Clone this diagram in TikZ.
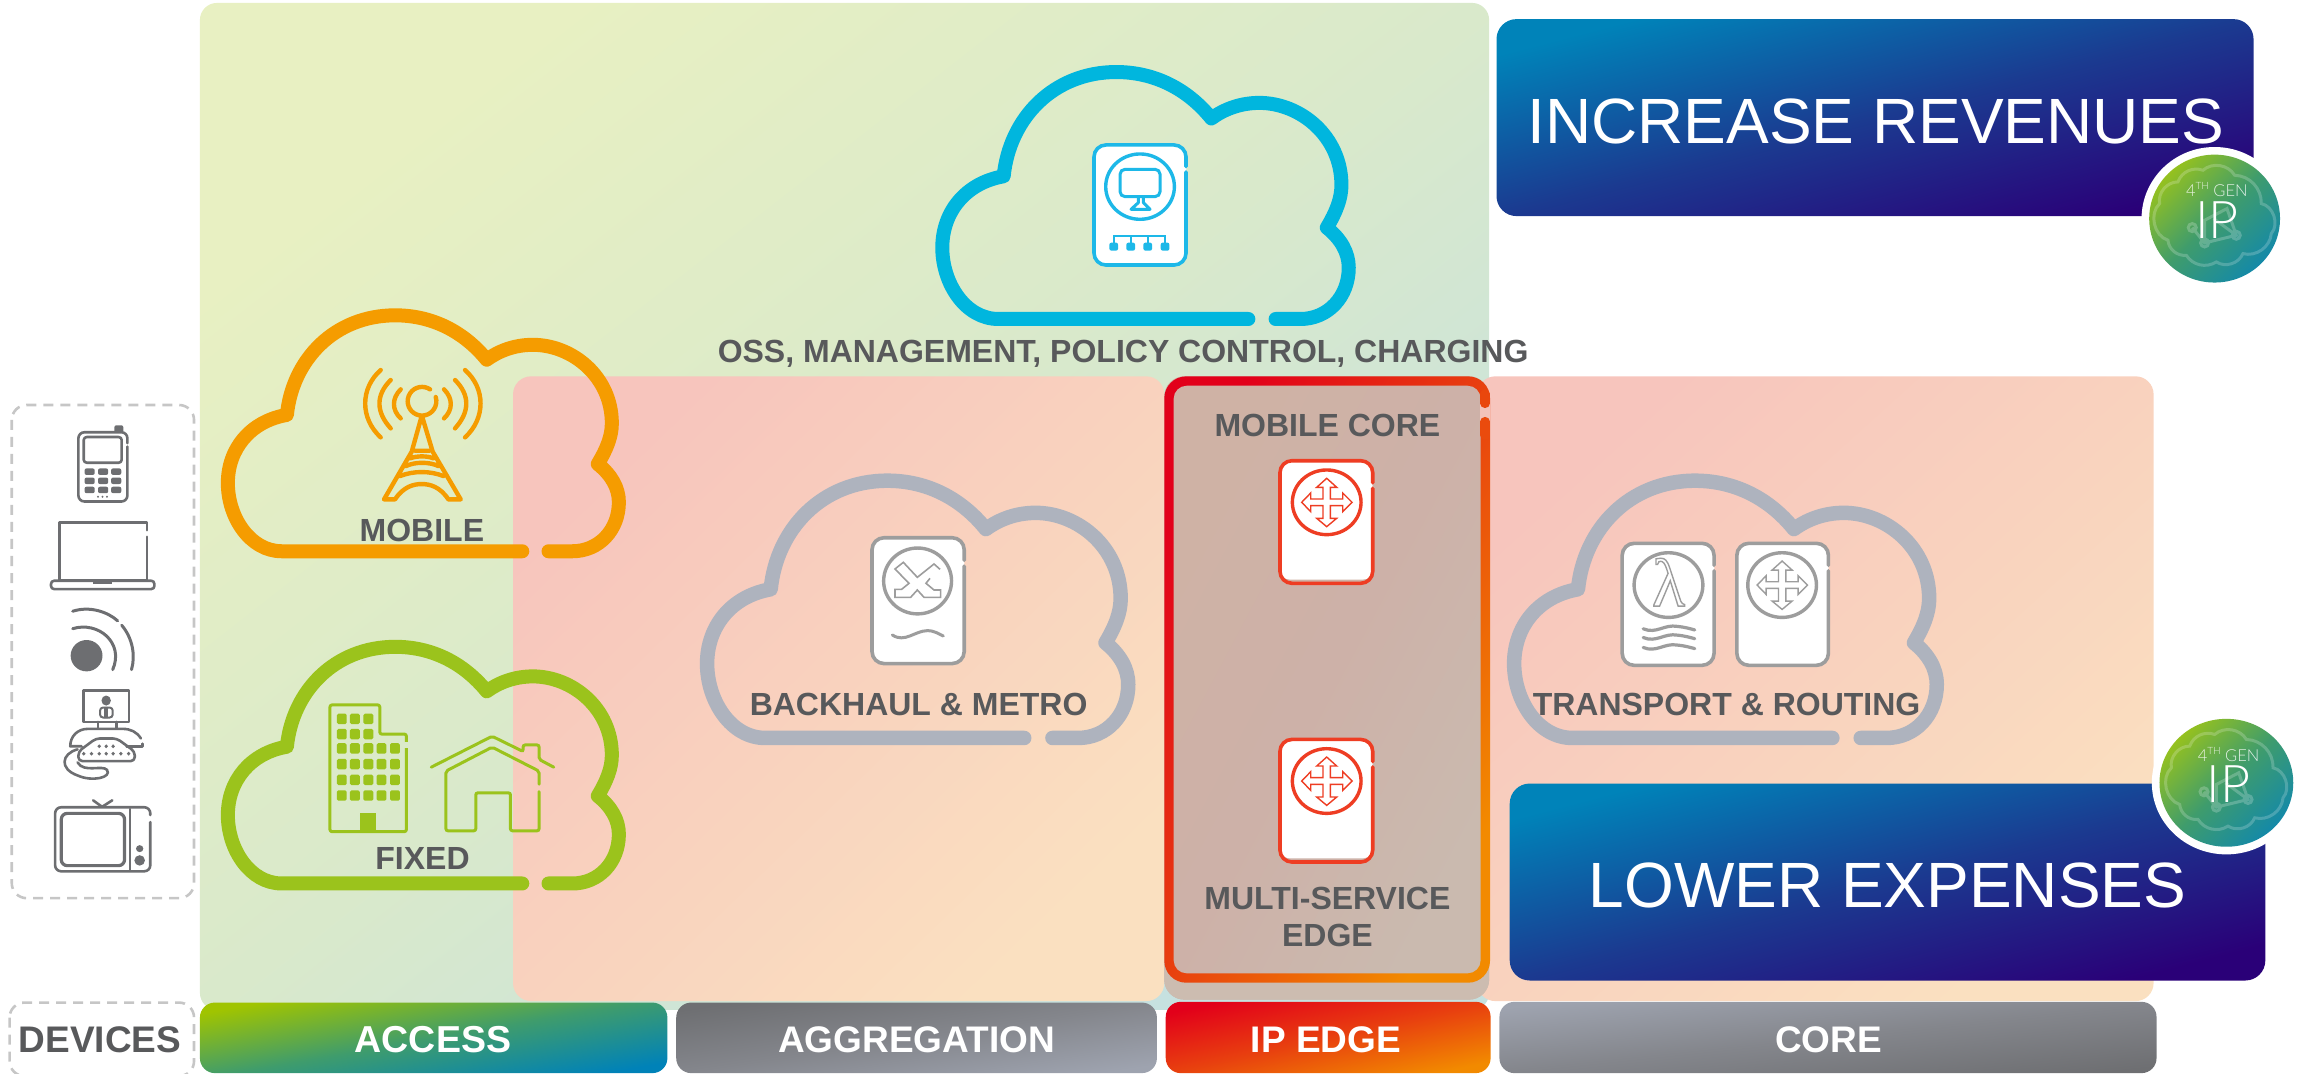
\documentclass[tikz,border=0pt]{standalone}
\usepackage{fontspec}
\setmainfont{Liberation Sans}
\newfontfamily\lamfont{Liberation Serif}
\newfontfamily\thinfont{Lato}[UprightFont=* Light]
\definecolor{txtgray}{HTML}{58595B}
\definecolor{devgray}{HTML}{6D6E71}
\definecolor{dashgray}{HTML}{C6C6C6}
\definecolor{cyanc}{HTML}{00B6DE}
\definecolor{cyanic}{HTML}{1DB8E8}
\definecolor{orangec}{HTML}{F59C00}
\definecolor{greenc}{HTML}{9BC31C}
\definecolor{grayc}{HTML}{AEB3BE}
\definecolor{iconred}{HTML}{EE3D23}
\definecolor{icongray}{HTML}{9D9D9D}
\definecolor{stripc}{HTML}{CCBCB0}
\definecolor{gA}{HTML}{E8F0C2}\definecolor{gB}{HTML}{D9E9CB}\definecolor{gC}{HTML}{C6E1E0}
\definecolor{pA}{HTML}{F7C5BD}\definecolor{pB}{HTML}{F9D2BE}\definecolor{pC}{HTML}{FAE0C0}
\definecolor{bA}{HTML}{CFB2A5}\definecolor{bB}{HTML}{CDB1A8}\definecolor{bC}{HTML}{CABAAF}
\definecolor{aA}{HTML}{A0C400}\definecolor{aB}{HTML}{3F9C6C}\definecolor{aC}{HTML}{0082B8}
\definecolor{ggA}{HTML}{6E6F72}\definecolor{ggB}{HTML}{84868C}\definecolor{ggC}{HTML}{9EA3AF}
\definecolor{eA}{HTML}{E2001A}\definecolor{eB}{HTML}{E8400F}\definecolor{eC}{HTML}{F28A00}
\definecolor{blA}{HTML}{0083B9}\definecolor{blB}{HTML}{1B3A90}\definecolor{blC}{HTML}{2A0078}
\definecolor{baA}{HTML}{95C11F}\definecolor{baB}{HTML}{3F9C6C}\definecolor{baC}{HTML}{1489A8}
\newcommand{\defdiag}[4]{\pgfdeclareverticalshading{#1}{100bp}{color(0bp)=(#4); color(25bp)=(#4); color(50bp)=(#3); color(75bp)=(#2); color(100bp)=(#2)}}
\defdiag{greenpanel}{gA}{gB}{gC}
\defdiag{pinkpanel}{pA}{pB}{pC}
\defdiag{brownpanel}{bA}{bB}{bC}
\defdiag{accessbar}{aA}{aB}{aC}
\defdiag{aggbar}{ggA}{ggB}{ggC}
\defdiag{corebar}{ggC}{ggB}{ggA}
\defdiag{edgebar}{eA}{eB}{eC}
\defdiag{bluebox}{blA}{blB}{blC}
\defdiag{badgefill}{baA}{baB}{baC}
\tikzset{
  diag/.style 2 args={shading=#1,shading angle=#2},
  lab/.style={font=\bfseries\fontsize{32}{37}\selectfont,text=txtgray,anchor=base,inner sep=0pt,align=center},
  barlab/.style={font=\bfseries\fontsize{37}{40}\selectfont,text=white,anchor=base,inner sep=0pt},
  biglab/.style={font=\fontsize{64}{70}\selectfont,text=white,anchor=base,inner sep=0pt},
  dev/.style={draw=devgray,line width=2.6pt,line cap=round,line join=round},
  dashbox/.style={draw=dashgray,line width=2.6pt,dash pattern=on 10pt off 7pt,rounded corners=15pt},
  zoomA/.style={shift={(0,265.3)},xscale=.2778,yscale=.2963},
  zoomB/.style={shift={(231.3,231.3)},scale=.2268},
  zoomC/.style={shift={(727.9,88.4)},scale=.2268},
  zoomD/.style={shift={(1006.8,306.1)},xscale=.358,yscale=.2703},
}
% cloud: corner x0,y0,x1,y1, colour, line width
\newcommand{\cloudshape}[6]{%
 \pgfmathsetmacro\cw{(#3-#1)/100}\pgfmathsetmacro\ch{(#4-#2)/100}%
 \begin{scope}[shift={(#1,#2)},xscale=\cw,yscale=\ch]
 \draw[draw=#5,line width=#6,line cap=round,line join=round]
  (82,100) -- (88.1,100) .. controls (94.9,100) and (100,91) .. (100,79.2)
  .. controls (100,73) and (98,67.5) .. (94.6,63)
  .. controls (96.9,56.7) and (98.2,51.3) .. (98.2,45.8)
  .. controls (98.2,26) and (88.1,12.5) .. (78,12.5)
  .. controls (73.2,12.5) and (69.2,15.2) .. (66.2,18.8)
  .. controls (60.4,7) and (52.3,0) .. (42.8,0)
  .. controls (27.3,0) and (16.5,18.8) .. (15.1,42.2)
  .. controls (5.7,44.9) and (0,56.7) .. (0,71.1)
  .. controls (0,85.6) and (5.7,100) .. (13.8,100) -- (75.3,100);
 \end{scope}}
% white card with a small break in its right edge
\newcommand{\cardshape}[6][white]{%
 \pgfmathsetmacro\gapa{#3+.18*(#5-#3)}\pgfmathsetmacro\gapb{#3+.225*(#5-#3)}%
 \fill[#1,rounded corners=12pt] (#2,#3) rectangle (#4,#5);
 \fill[white,rounded corners=10pt] (#2,#3) rectangle (#4,#5-2.5);
 \draw[draw=#6,line width=3.6pt,rounded corners=12pt,line cap=round]
   (#4,\gapb) -- (#4,#5) -- (#2,#5) -- (#2,#3) -- (#4,#3) -- (#4,\gapa);}
% router cross in a circle
\newcommand{\routericon}[3]{%
 \begin{scope}[shift={(#1,#2)},scale=.2268]
 \draw[draw=#3,line width=3.4pt] (0,0) ellipse[x radius=103,y radius=97];
 \draw[draw=#3,line width=1.4pt,line join=miter] (0,-72)--(-30,-45)--(-11,-45)--(-11,-10)--(-48,-10)--(-48,-28)--(-75,0)--(-48,28)--(-48,10)--(-11,10)--(-11,48)--(-30,48)--(0,73)--(30,48)--(11,48)--(11,10)--(48,10)--(48,28)--(76,0)--(48,-28)--(48,-10)--(11,-10)--(11,-45)--(30,-45)--cycle;
 \end{scope}}
% badge
\newcommand{\badgeicon}[4]{%
 \fill[white] (#1,#2) ellipse[x radius=#3+5.2,y radius=#4+5.2];
 \shade[diag={badgefill}{45}] (#1,#2) ellipse[x radius=#3,y radius=#4];
 \begin{scope}[shift={(#1,#2)},scale=.2268,shift={(-225,-235)}]
 \draw[white,opacity=.2,line width=3pt] (60,190) to[bend left=50] (115,125) to[bend left=45] (190,90) to[bend left=50] (285,105) to[bend left=45] (365,190) to[bend left=60] (395,280) to[bend left=50] (310,340) to[bend left=50] (230,365) to[bend left=45] (140,345) to[bend left=45] (85,300) to[bend left=60] cycle;
 \draw[white,opacity=.22,line width=3pt] (158,262) circle[radius=12] (195,308) circle[radius=12] (290,285) circle[radius=12] (158,262) -- (195,308) -- (290,285) -- (262,205) -- (195,240) -- (195,308) (222,235) -- (290,285);
 \end{scope}}
\begin{document}
\begin{tikzpicture}[x=1.47pt,y=-1.47pt]
\useasboundingbox (0,0) rectangle (1568,730);
% panels
\shade[diag={greenpanel}{38},rounded corners=17pt] (136,2) rectangle (1013,687);
\shade[diag={pinkpanel}{44},rounded corners=18pt] (349,256) rectangle (792,681);
\shade[diag={pinkpanel}{42},rounded corners=18pt] (1005,256) rectangle (1465,681);
\shade[diag={brownpanel}{62},rounded corners=20pt] (792,256) rectangle (1013,680);
\fill[stripc,rounded corners=20pt] (792,620) rectangle (1013,680);
% IP edge frame
\shade[diag={edgebar}{62},rounded corners=22pt] (792,256) rectangle (1013.6,668.5);
\shade[diag={brownpanel}{62},rounded corners=13pt] (798.4,262.4) rectangle (1007.2,662.1);
\fill[fill=pA!88!bA] (1006.8,272) rectangle (1013.8,289);
\draw[draw=eB!90!eC,line width=9.4pt,line cap=round] (1010.3,268) -- (1010.3,274.4);
\draw[draw=eB!85!eC,line width=9.4pt,line cap=round] (1010.3,286.8) -- (1010.3,296);
% clouds
\cloudshape{641}{49}{917.5}{217}{cyanc}{14pt}
\cloudshape{155}{214.5}{421}{375}{orangec}{14pt}
\cloudshape{155}{440}{421}{601}{greenc}{14pt}
\cloudshape{481}{327}{767.5}{502}{grayc}{14.5pt}
\cloudshape{1030}{327}{1317.5}{502}{grayc}{14.5pt}
% devices frames
\draw[dashbox] (8,275.5) rectangle (132,611);
\draw[dashbox] (6.5,682) rectangle (132,732);
% devices icons
\begin{scope}[zoomA]
 % phone
 \fill[devgray,rounded corners=2pt] (280,81) rectangle (302,98);
 \draw[dev,rounded corners=6pt] (312,130) -- (312,256) -- (192,256) -- (192,97) -- (312,97) -- (312,122);
 \draw[dev,rounded corners=3pt] (205,108) rectangle (298,167);
 \foreach \xa in {207,240,272}{\foreach \ya in {180,201,222}{\fill[devgray,rounded corners=2pt] (\xa,\ya) rectangle (\xa+25,\ya+15);}}
 \foreach \xa in {240,251,262}{\fill[devgray] (\xa,245) circle[radius=2.5];}
 % laptop
 \draw[dev] (360,337) -- (360,436) -- (145,436) -- (145,304) -- (360,304) -- (360,322);
 \draw[dev,rounded corners=3pt] (125,438) rectangle (378,457);
 \fill[devgray] (228,440) rectangle (274,446);
 % signal
 \fill[devgray] (212,610) ellipse[x radius=39,y radius=36];
 \draw[dev,line width=3pt] (178,548) .. controls (240,530) and (305,580) .. (276,642);
 \draw[dev,line width=3pt] (178,508) .. controls (220,495) and (265,510) .. (288,530);
 \draw[dev,line width=3pt] (298,540) .. controls (325,570) and (332,610) .. (322,642);
 % video phone
 \draw[dev] (205,690) rectangle (316,762);
 \fill[devgray] (260,713) circle[radius=11.5];
 \draw[dev,line width=2pt,rounded corners=3pt] (245,729) rectangle (276,752);
 \draw[dev,line width=2pt] (258,729) -- (258,752) (263,729) -- (263,752);
 \draw[dev] (240,762) -- (240,776) (285,762) -- (285,776);
 \draw[dev] (345,800) .. controls (335,785) and (320,778) .. (300,778) -- (215,778) .. controls (190,778) and (172,795) .. (172,818) -- (200,818);
 \draw[dev] (349,812) -- (349,818) -- (310,818);
 \draw[dev,rounded corners=4pt] (192,852) -- (330,852) -- (330,830) -- (286,800) -- (235,800) -- (192,830) -- cycle;
 \foreach \xa in {205,224,243,260,277,296,315}{\fill[devgray] (\xa,835) circle[radius=4.5];}
 \foreach \xa in {243,260,277}{\fill[devgray] (\xa,818) circle[radius=4.5];}
 \draw[dev] (190,825) .. controls (150,835) and (145,870) .. (190,885) .. controls (225,900) and (275,890) .. (262,872) .. controls (250,860) and (205,880) .. (190,855);
 % television
 \draw[dev,rounded corners=6pt] (368,992) -- (368,1105) -- (135,1105) -- (135,958) -- (368,958) -- (368,976);
 \draw[dev,line width=3.2pt,rounded corners=6pt] (150,972) rectangle (305,1092);
 \draw[dev] (318,962) -- (318,1103);
 \fill[devgray] (342,1053) ellipse[x radius=9,y radius=8];
 \fill[devgray] (342,1080) ellipse[x radius=13,y radius=12];
 \draw[dev] (228,942) -- (250,957) -- (275,942);
 % building
 \draw[draw=greenc,line width=3pt,rounded corners=2pt,line join=round] (995,808) -- (995,790) -- (930,790) -- (930,723) -- (808,723) -- (808,1014) -- (995,1014) -- (995,822);
 \foreach \ya in {743,778}{\foreach \xa in {825,857,890}{\fill[greenc,rounded corners=1.5pt] (\xa,\ya) rectangle (\xa+24,\ya+24);}}
 \foreach \ya in {811,847,883,919}{\foreach \xa in {825,857,890,922,955}{\fill[greenc,rounded corners=1.5pt] (\xa,\ya) rectangle (\xa+24,\ya+24);}}
 \fill[greenc] (881,970) rectangle (920,1012);
 % house
 \draw[draw=greenc,line width=3pt,line cap=round,rounded corners=2pt] (1056,866) -- (1205,795) -- (1281,830) -- (1281,815) -- (1320,815) -- (1320,848) -- (1356,866);
 \draw[draw=greenc,line width=3pt,line cap=round,rounded corners=2pt] (1320,905) -- (1320,875) -- (1205,820) -- (1092,875) -- (1092,1012) -- (1165,1012) -- (1165,925) -- (1250,925) -- (1250,1012) -- (1320,1012) -- (1320,922);
\end{scope}
% tower
\begin{scope}[zoomB]
 \draw[draw=orangec,line width=4.4pt,line cap=round,line join=round]
  (270,148) arc[start angle=-56,end angle=-377,radius=43]
  (182,148) .. controls (155,175) and (155,210) .. (182,235)
  (152,120) .. controls (107,165) and (107,215) .. (152,265)
  (122,90) .. controls (60,145) and (60,235) .. (122,292)
  (312,148) .. controls (339,175) and (339,210) .. (312,235)
  (345,120) .. controls (390,165) and (390,215) .. (345,265)
  (375,90) .. controls (437,145) and (437,235) .. (375,292)
  (243,235) -- (215,335) -- (132,478) -- (165,478) .. controls (190,440) and (220,432) .. (245,432) .. controls (270,432) and (300,440) .. (325,478) -- (362,478) -- (278,335) -- (248,235)
  (225,332) -- (268,332)
  (210,355) .. controls (230,347) and (262,347) .. (280,355)
  (198,378) .. controls (225,365) and (268,365) .. (295,378)
  (180,408) .. controls (220,392) and (270,392) .. (310,408);
\end{scope}
% cyan card
\cardshape{744.2}{98.6}{806.8}{180.3}{cyanic}
\begin{scope}[zoomC]
 \draw[draw=cyanic,line width=3.4pt] (210,170) ellipse[x radius=103,y radius=98];
 \draw[draw=cyanic,line width=3pt,rounded corners=5pt] (150,118) rectangle (270,200);
 \draw[draw=cyanic,line width=3pt,line join=round] (205,200) -- (205,218) -- (183,238) -- (240,238) -- (220,218) -- (220,200);
 \draw[draw=cyanic,line width=2.4pt] (131,340) -- (131,318) -- (285,318) -- (285,340) (182,318) -- (182,340) (233,318) -- (233,340);
 \foreach \xa in {131,182,233,285}{\fill[cyanic,rounded corners=2pt] (\xa-13,338) rectangle (\xa+13,362);}
\end{scope}
% backhaul card
\cardshape{593.2}{365.8}{655.9}{451.4}{icongray}
\draw[draw=icongray,line width=3.4pt] (624.2,395.2) ellipse[x radius=23.1,y radius=22.4];
\begin{scope}[shift={(571.4,340.1)},scale=.2268]
 \draw[draw=icongray,line width=1.6pt,line join=miter] (300,208) -- (282,192) -- (232,232) -- (190,187) -- (165,207) -- (207,250) -- (185,268) -- (165,268) -- (165,292) -- (212,292) -- (232,270) -- (252,292) -- (302,292) -- (302,270) -- (282,270) -- (258,250) -- (270,235);
 \draw[draw=icongray,line width=3pt,line cap=round] (157,405) .. controls (195,430) and (225,392) .. (262,392) .. controls (285,392) and (295,402) .. (310,408);
\end{scope}
% red cards
\cardshape[bA]{870.7}{313.4}{933.8}{396.8}{iconred}
\routericon{902.5}{341.7}{iconred}
\cardshape[bB]{870.7}{503}{933.8}{586.4}{iconred}
\routericon{902.5}{531.3}{iconred}
% transport cards
\cardshape{1103.5}{369.6}{1166}{452.6}{icongray}
\cardshape{1181.5}{369.6}{1243.8}{452.6}{icongray}
\draw[draw=icongray,line width=3.4pt] (1135,398) ellipse[x radius=23.4,y radius=22];
\routericon{1212.3}{398}{icongray}
\node[anchor=center,inner sep=0pt,text=icongray,font=\lamfont\fontsize{68}{68}\selectfont] (lambda) at (1135,396) {\special{pdf:code 1 Tr 1.4 w}λ\special{pdf:code 0 Tr}};
\begin{scope}[zoomD]
 \foreach \ya in {450,472,497}{\draw[draw=icongray,line width=3.2pt,line cap=round] (310,\ya) .. controls (335,\ya+14) and (350,\ya-12) .. (375,\ya-6) .. controls (390,\ya-4) and (400,\ya) .. (408,\ya+3);}
\end{scope}
% labels
\node[lab] (oss) at (764,246.3) {OSS, MANAGEMENT, POLICY CONTROL, CHARGING};
\node[lab] (mobile) at (287,368.4) {MOBILE};
\node[lab] (fixed) at (287.4,591.8) {FIXED};
\node[lab] (backhaul) at (624.9,486.4) {BACKHAUL \& METRO};
\node[lab] (transport) at (1174.5,486.4) {TRANSPORT \& ROUTING};
\node[lab] (mcore) at (903,297) {MOBILE CORE};
\node[lab,anchor=center] (mse) at (903,623.5) {MULTI-SERVICE\\EDGE};
% blue boxes
\shade[diag={bluebox}{14.6},rounded corners=20pt] (1018,13) rectangle (1533,147);
\node[biglab] (rev) at (1276,97.5) {INCREASE REVENUES};
\shade[diag={bluebox}{14.6},rounded corners=20pt] (1027,533) rectangle (1541,667);
\node[biglab] (exp) at (1284,617) {LOWER EXPENSES};
% badges
\badgeicon{1506.5}{148.7}{44.5}{43.5}
\node[anchor=base,inner sep=0pt,text=white,font=\thinfont\fontsize{16.5}{16}\selectfont,opacity=.85] (gena) at (1508,134) {4\raisebox{.45em}{\fontsize{10}{10}\selectfont TH} GEN};
\node[anchor=base,inner sep=0pt,text=white,font=\thinfont\fontsize{52}{52}\selectfont] (ipa) at (1508,162) {IP};
\badgeicon{1514.5}{532.5}{45.5}{43.5}
\node[anchor=base,inner sep=0pt,text=white,font=\thinfont\fontsize{16.5}{16}\selectfont,opacity=.85] (genb) at (1516,518) {4\raisebox{.45em}{\fontsize{10}{10}\selectfont TH} GEN};
\node[anchor=base,inner sep=0pt,text=white,font=\thinfont\fontsize{52}{52}\selectfont] (ipb) at (1516,546) {IP};
% bars
\shade[diag={accessbar}{10},rounded corners=15pt] (136,682) rectangle (454,730);
\shade[diag={aggbar}{8.4},rounded corners=15pt] (460,682) rectangle (787,730);
\shade[diag={edgebar}{12.2},rounded corners=15pt] (793,681.5) rectangle (1014,730);
\shade[diag={corebar}{6},rounded corners=15pt] (1020,681.5) rectangle (1467,730);
\node[barlab,text=txtgray] (dev) at (68,716.3) {DEVICES};
\node[barlab,font=\bfseries\fontsize{37.5}{40}\selectfont] (acc) at (294.5,716.3) {ACCESS};
\node[barlab] (agg) at (623.5,716.3) {AGGREGATION};
\node[barlab] (edge) at (902,716.3) {IP EDGE};
\node[barlab] (core) at (1244,716.3) {CORE};
\end{tikzpicture}
\end{document}
